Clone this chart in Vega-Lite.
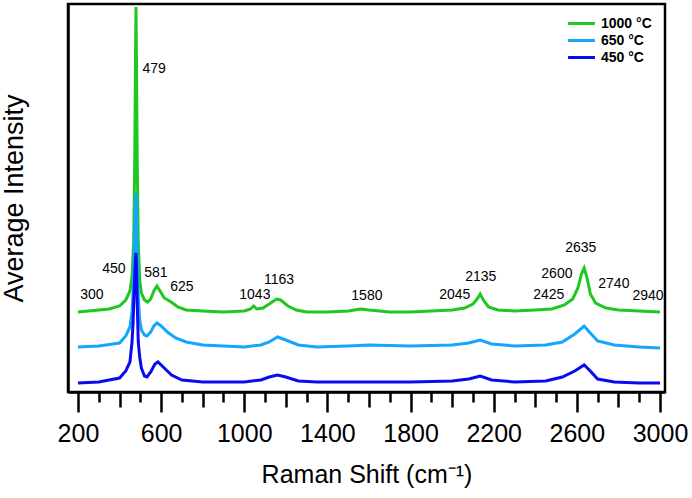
{
  "$schema": "https://vega.github.io/schema/vega-lite/v6.json",
  "width": 597,
  "height": 388,
  "autosize": {"type": "none"},
  "padding": {"left": 68, "top": 4, "right": 27, "bottom": 106},
  "background": "white",
  "config": {
    "view": {"stroke": "black", "strokeWidth": 2.5},
    "font": "Liberation Sans"
  },
  "datasets": {
    "spectra": [
      {"s":"1000 °C","x":200,"y":80},{"s":"1000 °C","x":250,"y":81},{"s":"1000 °C","x":300,"y":82},{"s":"1000 °C","x":350,"y":83},
      {"s":"1000 °C","x":400,"y":86},{"s":"1000 °C","x":430,"y":92},{"s":"1000 °C","x":450,"y":101},{"s":"1000 °C","x":460,"y":115},
      {"s":"1000 °C","x":468,"y":150},{"s":"1000 °C","x":473,"y":230},{"s":"1000 °C","x":477,"y":340},{"s":"1000 °C","x":479,"y":385},
      {"s":"1000 °C","x":481,"y":340},{"s":"1000 °C","x":485,"y":230},{"s":"1000 °C","x":490,"y":150},{"s":"1000 °C","x":497,"y":112},
      {"s":"1000 °C","x":505,"y":99},{"s":"1000 °C","x":520,"y":92},{"s":"1000 °C","x":535,"y":90},{"s":"1000 °C","x":550,"y":93},
      {"s":"1000 °C","x":565,"y":101},{"s":"1000 °C","x":580,"y":106},{"s":"1000 °C","x":595,"y":101},{"s":"1000 °C","x":615,"y":94},
      {"s":"1000 °C","x":640,"y":91},{"s":"1000 °C","x":655,"y":89},{"s":"1000 °C","x":680,"y":85},{"s":"1000 °C","x":720,"y":82},
      {"s":"1000 °C","x":800,"y":81},{"s":"1000 °C","x":900,"y":80},{"s":"1000 °C","x":1000,"y":81},{"s":"1000 °C","x":1030,"y":83},
      {"s":"1000 °C","x":1045,"y":86},{"s":"1000 °C","x":1060,"y":83},{"s":"1000 °C","x":1090,"y":84},{"s":"1000 °C","x":1120,"y":88},
      {"s":"1000 °C","x":1155,"y":93},{"s":"1000 °C","x":1175,"y":92},{"s":"1000 °C","x":1210,"y":86},{"s":"1000 °C","x":1250,"y":82},
      {"s":"1000 °C","x":1300,"y":80},{"s":"1000 °C","x":1400,"y":80},{"s":"1000 °C","x":1500,"y":81},{"s":"1000 °C","x":1560,"y":83},
      {"s":"1000 °C","x":1600,"y":82},{"s":"1000 °C","x":1700,"y":80},{"s":"1000 °C","x":1800,"y":80},{"s":"1000 °C","x":1900,"y":81},
      {"s":"1000 °C","x":2000,"y":82},{"s":"1000 °C","x":2060,"y":84},{"s":"1000 °C","x":2100,"y":88},{"s":"1000 °C","x":2120,"y":93},
      {"s":"1000 °C","x":2135,"y":98},{"s":"1000 °C","x":2150,"y":92},{"s":"1000 °C","x":2175,"y":85},{"s":"1000 °C","x":2220,"y":82},
      {"s":"1000 °C","x":2300,"y":81},{"s":"1000 °C","x":2400,"y":82},{"s":"1000 °C","x":2480,"y":83},{"s":"1000 °C","x":2540,"y":87},
      {"s":"1000 °C","x":2580,"y":93},{"s":"1000 °C","x":2605,"y":104},{"s":"1000 °C","x":2622,"y":118},{"s":"1000 °C","x":2635,"y":124},
      {"s":"1000 °C","x":2648,"y":115},{"s":"1000 °C","x":2665,"y":98},{"s":"1000 °C","x":2690,"y":89},{"s":"1000 °C","x":2740,"y":84},
      {"s":"1000 °C","x":2800,"y":82},{"s":"1000 °C","x":2900,"y":81},{"s":"1000 °C","x":3000,"y":80},

      {"s":"650 °C","x":200,"y":45},{"s":"650 °C","x":300,"y":46},{"s":"650 °C","x":400,"y":49},{"s":"650 °C","x":430,"y":56},
      {"s":"650 °C","x":450,"y":65},{"s":"650 °C","x":460,"y":80},{"s":"650 °C","x":465,"y":100},{"s":"650 °C","x":472,"y":150},
      {"s":"650 °C","x":477,"y":192},{"s":"650 °C","x":479,"y":199},{"s":"650 °C","x":481,"y":185},{"s":"650 °C","x":485,"y":140},
      {"s":"650 °C","x":490,"y":95},{"s":"650 °C","x":497,"y":72},{"s":"650 °C","x":505,"y":62},{"s":"650 °C","x":520,"y":57},
      {"s":"650 °C","x":532,"y":56},{"s":"650 °C","x":550,"y":60},
      {"s":"650 °C","x":565,"y":66},{"s":"650 °C","x":580,"y":69},{"s":"650 °C","x":600,"y":66},{"s":"650 °C","x":630,"y":60},
      {"s":"650 °C","x":670,"y":54},{"s":"650 °C","x":720,"y":50},{"s":"650 °C","x":800,"y":47},{"s":"650 °C","x":900,"y":46},
      {"s":"650 °C","x":1000,"y":45},{"s":"650 °C","x":1080,"y":47},{"s":"650 °C","x":1120,"y":50},{"s":"650 °C","x":1160,"y":55},
      {"s":"650 °C","x":1200,"y":52},{"s":"650 °C","x":1260,"y":47},{"s":"650 °C","x":1350,"y":45},{"s":"650 °C","x":1500,"y":46},
      {"s":"650 °C","x":1600,"y":47},{"s":"650 °C","x":1800,"y":46},{"s":"650 °C","x":2000,"y":47},{"s":"650 °C","x":2080,"y":49},
      {"s":"650 °C","x":2135,"y":52},{"s":"650 °C","x":2190,"y":48},{"s":"650 °C","x":2300,"y":46},{"s":"650 °C","x":2450,"y":47},
      {"s":"650 °C","x":2530,"y":50},{"s":"650 °C","x":2590,"y":58},{"s":"650 °C","x":2635,"y":66},{"s":"650 °C","x":2660,"y":60},
      {"s":"650 °C","x":2700,"y":51},{"s":"650 °C","x":2780,"y":47},{"s":"650 °C","x":2900,"y":45},{"s":"650 °C","x":3000,"y":44},

      {"s":"450 °C","x":200,"y":9},{"s":"450 °C","x":300,"y":10},{"s":"450 °C","x":400,"y":14},{"s":"450 °C","x":430,"y":21},
      {"s":"450 °C","x":450,"y":30},{"s":"450 °C","x":460,"y":50},{"s":"450 °C","x":465,"y":69},{"s":"450 °C","x":472,"y":110},
      {"s":"450 °C","x":477,"y":135},{"s":"450 °C","x":479,"y":139},{"s":"450 °C","x":481,"y":128},{"s":"450 °C","x":485,"y":90},
      {"s":"450 °C","x":490,"y":50},{"s":"450 °C","x":497,"y":35},{"s":"450 °C","x":505,"y":24},{"s":"450 °C","x":520,"y":16},
      {"s":"450 °C","x":532,"y":15},{"s":"450 °C","x":550,"y":20},
      {"s":"450 °C","x":570,"y":28},{"s":"450 °C","x":585,"y":30},{"s":"450 °C","x":610,"y":25},{"s":"450 °C","x":650,"y":17},
      {"s":"450 °C","x":700,"y":12},{"s":"450 °C","x":800,"y":10},{"s":"450 °C","x":900,"y":10},{"s":"450 °C","x":1000,"y":10},
      {"s":"450 °C","x":1080,"y":12},{"s":"450 °C","x":1120,"y":15},{"s":"450 °C","x":1160,"y":17},{"s":"450 °C","x":1200,"y":15},
      {"s":"450 °C","x":1260,"y":11},{"s":"450 °C","x":1350,"y":10},{"s":"450 °C","x":1500,"y":10},{"s":"450 °C","x":1600,"y":10},
      {"s":"450 °C","x":1800,"y":10},{"s":"450 °C","x":2000,"y":11},{"s":"450 °C","x":2080,"y":13},{"s":"450 °C","x":2135,"y":16},
      {"s":"450 °C","x":2190,"y":12},{"s":"450 °C","x":2300,"y":10},{"s":"450 °C","x":2450,"y":11},{"s":"450 °C","x":2530,"y":15},
      {"s":"450 °C","x":2590,"y":21},{"s":"450 °C","x":2635,"y":27},{"s":"450 °C","x":2660,"y":22},{"s":"450 °C","x":2700,"y":13},
      {"s":"450 °C","x":2780,"y":10},{"s":"450 °C","x":2900,"y":9},{"s":"450 °C","x":3000,"y":9}
    ],
    "labels": [
      {"t":"450","x":373,"y":123},{"t":"581","x":575,"y":119},{"t":"625","x":700,"y":105},
      {"t":"300","x":267,"y":97},{"t":"1043","x":1051,"y":97},{"t":"1163","x":1167,"y":112},{"t":"1580","x":1590,"y":96},
      {"t":"2045","x":2013,"y":97},{"t":"2135","x":2138,"y":115},{"t":"2425","x":2465,"y":97},{"t":"2600","x":2504,"y":118},
      {"t":"2635","x":2619,"y":144},{"t":"2740","x":2778,"y":108},{"t":"2940","x":2942,"y":96}
    ],
    "peak": [
      {"t":"479","x":566,"y":323}
    ]
  },
  "layer": [
    {
      "data": {"name": "spectra"},
      "mark": {"type": "line", "strokeWidth": 3, "interpolate": "linear"},
      "encoding": {
        "x": {"field": "x", "type": "quantitative",
          "scale": {"domain": [152, 3024], "nice": false, "zero": false},
          "axis": {"orient": "bottom", "values": [200, 600, 1000, 1400, 1800, 2200, 2600, 3000], "format": "d", "grid": false,
            "tickSize": 20, "tickWidth": 2.5, "tickColor": "black", "domainColor": "black", "domainWidth": 2.5,
            "labelFontSize": 25, "labelFont": "Liberation Sans", "labelColor": "black", "labelPadding": 9,
            "labelFlush": false, "labelOverlap": false, "labelBound": false,
            "title": "Raman Shift (cm⁻¹)", "titleFontSize": 25, "titleFont": "Liberation Sans", "titleFontWeight": "normal",
            "titleColor": "black", "titlePadding": 16}},
        "y": {"field": "y", "type": "quantitative",
          "scale": {"domain": [0, 388], "nice": false, "zero": false},
          "axis": {"labels": false, "ticks": false, "grid": false, "domainColor": "black", "domainWidth": 2.5,
            "title": "Average Intensity", "titleFontSize": 27, "titleFont": "Liberation Sans", "titleFontWeight": "normal",
            "titleColor": "black", "titlePadding": 40}},
        "color": {"field": "s", "type": "nominal",
          "scale": {"domain": ["1000 °C", "650 °C", "450 °C"], "range": ["#1ec81e", "#14a5ff", "#0a0af0"]},
          "legend": {"orient": "none", "legendX": 505, "legendY": 11, "title": null, "padding": 0,
            "symbolType": "M-2,0H2", "symbolSize": 180, "symbolStrokeWidth": 3,
            "labelFontSize": 14, "labelFontWeight": "bold", "labelFont": "Liberation Sans", "labelColor": "black",
            "labelOffset": 11, "rowPadding": 1}}
      }
    },
    {
      "data": {"name": "labels"},
      "mark": {"type": "text", "fontSize": 14, "font": "Liberation Sans", "color": "black", "align": "center", "baseline": "middle"},
      "encoding": {
        "x": {"field": "x", "type": "quantitative",
          "axis": {"orient": "bottom", "values": [400, 800, 1200, 1600, 2000, 2400, 2800], "grid": false, "labels": false,
            "domain": false, "title": null, "tickSize": 15, "tickWidth": 2.5, "tickColor": "black"}},
        "y": {"field": "y", "type": "quantitative",
          "axis": {"labels": false, "ticks": false, "grid": false, "domainColor": "black", "domainWidth": 2.5,
            "title": "Average Intensity", "titleFontSize": 27, "titleFont": "Liberation Sans", "titleFontWeight": "normal",
            "titleColor": "black", "titlePadding": 40}},
        "text": {"field": "t", "type": "nominal"}
      }
    },
    {
      "data": {"name": "peak"},
      "mark": {"type": "text", "fontSize": 14, "font": "Liberation Sans", "color": "black", "align": "center", "baseline": "middle"},
      "encoding": {
        "x": {"field": "x", "type": "quantitative",
          "axis": {"orient": "bottom", "values": [300, 500, 700, 900, 1100, 1300, 1500, 1700, 1900, 2100, 2300, 2500, 2700, 2900], "grid": false, "labels": false,
            "domain": false, "title": null, "tickSize": 10, "tickWidth": 2.5, "tickColor": "black"}},
        "y": {"field": "y", "type": "quantitative",
          "axis": {"labels": false, "ticks": false, "grid": false, "domainColor": "black", "domainWidth": 2.5,
            "title": "Average Intensity", "titleFontSize": 27, "titleFont": "Liberation Sans", "titleFontWeight": "normal",
            "titleColor": "black", "titlePadding": 40}},
        "text": {"field": "t", "type": "nominal"}
      }
    }
  ],
  "resolve": {"axis": {"x": "independent"}}
}
